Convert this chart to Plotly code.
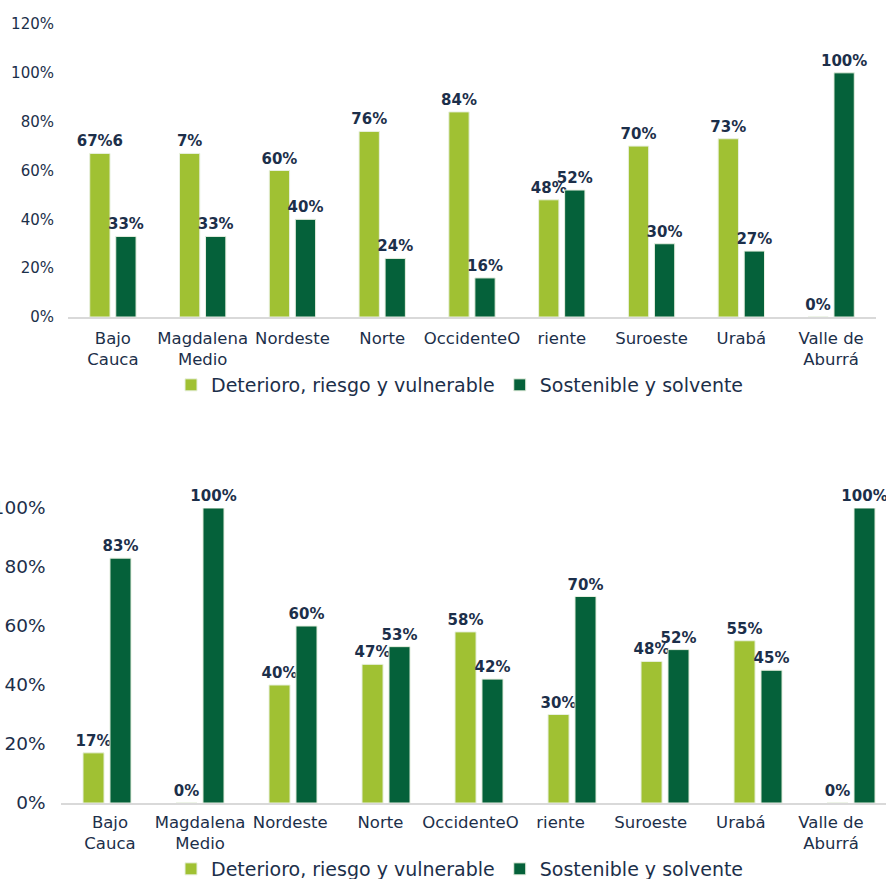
import plotly.graph_objects as go

categories = ["Bajo<br>Cauca", "Magdalena<br>Medio", "Nordeste", "Norte", "OccidenteO",
              "riente", "Suroeste", "Urabá", "Valle de<br>Aburrá"]
series_names = ["Deterioro, riesgo y vulnerable", "Sostenible y solvente"]

top_deterioro = [67, 67, 60, 76, 84, 48, 70, 73, 0]
top_sostenible = [33, 33, 40, 24, 16, 52, 30, 27, 100]
top_deterioro_labels = ["67%6", "7%", "60%", "76%", "84%", "48%", "70%", "73%", "0%"]

bot_deterioro = [17, 0, 40, 47, 58, 30, 48, 55, 0]
bot_sostenible = [83, 100, 60, 53, 42, 70, 52, 45, 100]

y_ticks_top = [0, 20, 40, 60, 80, 100, 120]
y_text_top = ["0%", "20%", "40%", "60%", "80%", "100%", "120%"]
y_ticks_bot = [0, 20, 40, 60, 80, 100]
y_text_bot = ["0%", "20%", "40%", "60%", "80%", "100%"]

LIGHT = "#A0C133"
DARK = "#05613A"
NAVY = "#1C2F4A"
FONT = "DejaVu Sans"
W, H = 886, 879

def pct(v):
    return [f"{x}%" for x in v]

fig = go.Figure()

common = dict(textposition="outside", cliponaxis=False, constraintext="none",
              textfont=dict(family=FONT, size=15, color=NAVY, weight="bold"),
              marker_line=dict(color="#E8F0E0", width=1))

fig.add_trace(go.Bar(x=categories, y=top_deterioro, text=top_deterioro_labels,
                     name=series_names[0], marker_color=LIGHT,
                     xaxis="x", yaxis="y", legend="legend", **common))
fig.add_trace(go.Bar(x=categories, y=top_sostenible, text=pct(top_sostenible),
                     name=series_names[1], marker_color=DARK,
                     xaxis="x", yaxis="y", legend="legend", **common))
fig.add_trace(go.Bar(x=categories, y=bot_deterioro, text=pct(bot_deterioro),
                     name=series_names[0], marker_color=LIGHT,
                     xaxis="x2", yaxis="y2", legend="legend2", **common))
fig.add_trace(go.Bar(x=categories, y=bot_sostenible, text=pct(bot_sostenible),
                     name=series_names[1], marker_color=DARK,
                     xaxis="x2", yaxis="y2", legend="legend2", **common))
# invisible carrier so the lower chart's label axis is drawn
fig.add_trace(go.Scatter(x=list(range(len(categories))), y=bot_deterioro, mode="none",
                         showlegend=False, hoverinfo="skip",
                         xaxis="x3", yaxis="y2"))

tickfont = dict(family=FONT, size=16.5, color=NAVY)
xax = dict(showgrid=False, zeroline=False, showline=True,
           linecolor="#D9D9D9", linewidth=2, ticks="", ticklabelstandoff=5,
           tickfont=tickfont)

legend_common = dict(orientation="h", xanchor="left", yanchor="middle",
                     font=dict(family=FONT, size=19, color=NAVY),
                     bgcolor="rgba(0,0,0,0)", itemwidth=30, traceorder="normal")

fig.update_layout(
    width=W, height=H,
    margin=dict(l=0, r=0, t=0, b=0, autoexpand=False),
    paper_bgcolor="white", plot_bgcolor="white",
    barmode="group", bargap=0.42, bargroupgap=0.22,
    xaxis=dict(type="category", domain=[68 / W, 876 / W], anchor="y",
               range=[-0.5, 8.5], **xax),
    yaxis=dict(domain=[1 - 317 / H, 1 - 24 / H], anchor="x", range=[0, 120],
               tickmode="array", tickvals=y_ticks_top, ticktext=y_text_top,
               showgrid=False, zeroline=False,
               showline=False, ticks="", ticklabelstandoff=13,
               tickfont=dict(family=FONT, size=15, color=NAVY)),
    xaxis2=dict(type="category", domain=[60.5 / W, 1.0], anchor="y2",
                range=[-0.5, 8.376], showticklabels=False, **xax),
    # label axis for the lower chart: its category labels sit where the upper chart's do
    xaxis3=dict(overlaying="x2", anchor="y2", type="linear",
                range=[-0.549, 8.61], tickmode="array",
                tickvals=list(range(len(categories))), ticktext=categories,
                showgrid=False, zeroline=False, showline=False, ticks="",
                ticklabelstandoff=7, tickfont=tickfont),
    yaxis2=dict(domain=[1 - 803 / H, 1 - 508 / H], anchor="x2", range=[0, 100],
                tickmode="array", tickvals=y_ticks_bot, ticktext=y_text_bot,
                showgrid=False, zeroline=False,
                showline=False, ticks="", ticklabelstandoff=14,
                tickfont=dict(family=FONT, size=18.5, color=NAVY)),
    legend=dict(x=171 / W, y=1 - 385 / H, **legend_common),
    legend2=dict(x=171 / W, y=1 - 869 / H, **legend_common),
)

fig.write_html("out.html")
